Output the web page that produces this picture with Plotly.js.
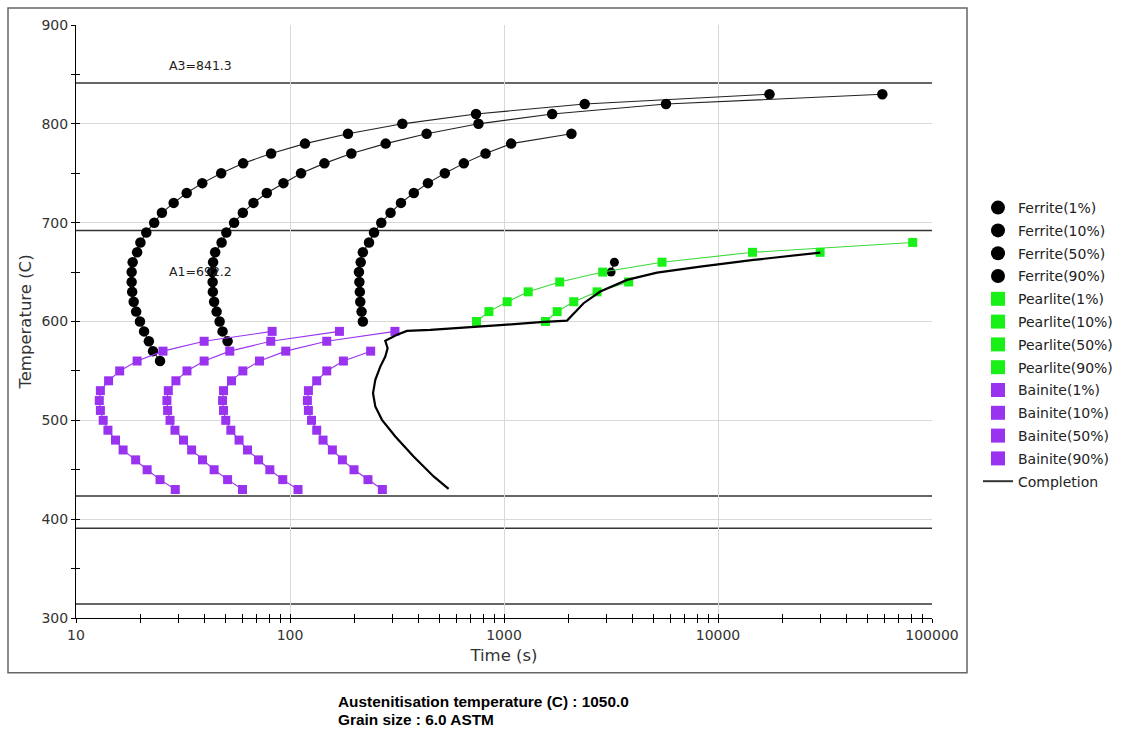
<!DOCTYPE html>
<html><head><meta charset="utf-8">
<script src="https://cdn.plot.ly/plotly-3.0.1.min.js"></script>
<style>html,body{margin:0;padding:0;background:#fff}#chart{width:1124px;height:734px}</style>
</head><body><div id="chart"></div>
<script>
// ---- data ----
const ferrite1T    = [830,820,810,800,790,780,770,760,750,740,730,720,710,700,690,680,670,660,650,640,630,620,610,600,590,580,570,560];
const ferrite1Time = [17400,2383,740,335,186.6,117.5,81.6,60.4,47.7,38.9,32.9,28.6,25.2,23.2,21.3,20.0,19.3,18.4,18.2,18.2,18.3,18.6,19.1,19.9,20.8,21.9,22.9,24.7];
const ferrite10T    = [830,820,810,800,790,780,770,760,750,740,730,720,710,700,690,680,670,660,650,640,630,620,610,600,590,580];
const ferrite10Time = [58600,5716,1679,760,435,280,193.5,144.8,112.6,93.2,77.9,67.5,60.2,54.8,50.4,47.9,44.7,43.7,43.3,43.5,43.6,44.2,45.4,46.9,48.4,51.1];
const ferrite50T    = [790,780,770,760,750,740,730,720,710,700,690,680,670,660,650,640,630,620,610,600];
const ferrite50Time = [2066,1080,820,649,529,441,379,330,295,267,247,234,219,214,210,211,212,213,216,219];
const ferrite90T    = [660,650];
const ferrite90Time = [3280,3165];

const pearlite1T     = [600,610,620,630,640,650,660,670,680];
const pearlite1Time  = [744,850,1035,1297,1821,2892,5474,14500,81250];
const pearlite10T    = [600,610,620,630,640];
const pearlite10Time = [1562,1772,2118,2723,3823];
const pearlite50T    = [670];
const pearlite50Time = [30000];

const bainiteT       = [430,440,450,460,470,480,490,500,510,520,530,540,550,560,570,580,590];
const bainite1Time   = [29.1,24.7,21.5,19.0,16.6,15.3,14.1,13.4,13.0,12.85,13.0,14.2,16.0,19.3,25.5,39.7,82.5];
const bainite10Time  = [60.0,51.1,44.2,39.0,34.7,31.8,29.0,27.5,26.8,26.6,27.0,29.3,33.0,39.7,52.3,81.3,170.2];
const bainite50Time  = [109.0,92.5,80.5,71.3,63.3,57.8,52.9,50.1,48.9,48.4,48.9,53.3,60.2,72.0,95.5,148.5,309.3];
const bainite90T     = [430,440,450,460,470,480,490,500,510,520,530,540,550,560,570];
const bainite90Time  = [270.1,231.4,199.1,175.7,157.8,142.7,133.3,126.0,121.9,120.6,121.9,133.3,148.5,177.6,238.2];

const completionTime = [551,469,378,310.5,269,250.4,244.3,250.4,264.2,278.8,285.8,278.8,316,352,452.5,625,748,995.5,1478,1970,2355,2818,3757,5188,8263,14670,30060];
const completionT    = [430.7,443.2,463.4,483.6,500.5,514,527.5,541,554.4,564.5,573,580.4,586.5,590.5,591.5,593.9,594.9,596.6,599.3,600.9,618.5,630.3,642.1,649.5,655.6,662.3,669.7];

const refLineValues = [841.3, 692.2, 423.5, 390.8, 314.2];
const refLineLabels = ['A3=841.3', 'A1=692.2', '', '', ''];

const xTickVals = [10,100,1000,10000,100000];
const xTickText = ['10','100','1000','10000','100000'];
const infoLines = ['Austenitisation temperature (C) : 1050.0', 'Grain size : 6.0 ASTM'];

// ---- styles ----
const BLACK = '#000000', GREEN = '#18f018', GREENLINE = '#3ad83a', PURPLE = '#9a33f0';
const FONT = 'DejaVu Sans, Arial, sans-serif';

const series = [
  {name:'Ferrite(1%)',  x:ferrite1Time,  y:ferrite1T,  sym:'circle', col:BLACK, lc:'#222', ms:10.5},
  {name:'Ferrite(10%)', x:ferrite10Time, y:ferrite10T, sym:'circle', col:BLACK, lc:'#222', ms:10.5},
  {name:'Ferrite(50%)', x:ferrite50Time, y:ferrite50T, sym:'circle', col:BLACK, lc:'#222', ms:10.5},
  {name:'Ferrite(90%)', x:ferrite90Time, y:ferrite90T, sym:'circle', col:BLACK, lc:'#222', ms:9},
  {name:'Pearlite(1%)', x:pearlite1Time, y:pearlite1T, sym:'square', col:GREEN, lc:GREENLINE, ms:9},
  {name:'Pearlite(10%)',x:pearlite10Time,y:pearlite10T,sym:'square', col:GREEN, lc:GREENLINE, ms:9},
  {name:'Pearlite(50%)',x:pearlite50Time,y:pearlite50T,sym:'square', col:GREEN, lc:GREENLINE, ms:9},
  {name:'Pearlite(90%)',x:[], y:[], sym:'square', col:GREEN, lc:GREENLINE, ms:9},
  {name:'Bainite(1%)',  x:bainite1Time,  y:bainiteT,   sym:'square', col:PURPLE, lc:PURPLE, ms:9},
  {name:'Bainite(10%)', x:bainite10Time, y:bainiteT,   sym:'square', col:PURPLE, lc:PURPLE, ms:9},
  {name:'Bainite(50%)', x:bainite50Time, y:bainiteT,   sym:'square', col:PURPLE, lc:PURPLE, ms:9},
  {name:'Bainite(90%)', x:bainite90Time, y:bainite90T, sym:'square', col:PURPLE, lc:PURPLE, ms:9}
];

const traces = [];
series.forEach((s, i) => {
  traces.push({
    type:'scatter', mode:'lines+markers', x:s.x, y:s.y, name:s.name, legendgroup:'g'+i,
    showlegend:false, line:{color:s.lc, width:1.1},
    marker:{symbol:s.sym, color:s.col, size:s.ms, line:{width:0}}, hoverinfo:'x+y+name'
  });
});
traces.push({
  type:'scatter', mode:'lines', x:completionTime, y:completionT, name:'Completion',
  legendgroup:'g12', showlegend:false, line:{color:'#000', width:2.2}
});
// legend entries (marker only)
series.forEach((s, i) => {
  traces.push({
    type:'scatter', mode:'markers', x:[null], y:[null], name:s.name, legendgroup:'g'+i,
    showlegend:true, marker:{symbol:s.sym, color:s.col, size:14, line:{width:0}},
    xaxis:'x2', yaxis:'y2'
  });
});
traces.push({
  type:'scatter', mode:'lines', x:[null], y:[null], name:'Completion', legendgroup:'g12',
  showlegend:true, line:{color:'#333', width:2}, xaxis:'x2', yaxis:'y2'
});

const L = 76, R = 932, T = 25, B = 618.3, W = 1124, H = 734;
const pw = R - L, ph = B - T;
const px2x = p => (p - L) / pw;
const py2y = p => (B - p) / ph;

const shapes = refLineValues.map(v => ({
  type:'line', xref:'paper', x0:0, x1:1, yref:'y', y0:v, y1:v,
  line:{color:'#333', width:1.5}, layer:'below'
}));
shapes.push({
  type:'rect', xref:'paper', yref:'paper',
  x0:px2x(8), x1:px2x(967), y0:py2y(673), y1:py2y(8),
  line:{color:'#666', width:1.5}, fillcolor:'rgba(0,0,0,0)'
});

const annotations = [];
const labelShift = [18, -41, 0, 0, 0];
refLineValues.forEach((v, i) => {
  if (!refLineLabels[i]) return;
  annotations.push({
    xref:'paper', x:px2x(167), xanchor:'left', yref:'y', y:v, yshift:labelShift[i], yanchor:'middle',
    text:refLineLabels[i], showarrow:false, font:{family:FONT, size:12.5, color:'#222'}
  });
});
infoLines.forEach((t, i) => {
  annotations.push({
    xref:'paper', yref:'paper', x:px2x(336), y:py2y(702 + i*18), xanchor:'left', yanchor:'middle',
    text:'<b>' + t + '</b>', showarrow:false,
    font:{family:'Liberation Sans, Arial, sans-serif', size:15.4, color:'#000'}
  });
});

const axisCommon = {
  showline:true, linecolor:'#000', linewidth:1, zeroline:false,
  tickcolor:'#000', tickfont:{family:FONT, size:14, color:'#333'}
};

const layout = {
  width:W, height:H, paper_bgcolor:'#fff', plot_bgcolor:'#fff',
  margin:{l:L, r:W-R, t:T, b:H-B},
  showlegend:true,
  xaxis:Object.assign({}, axisCommon, {
    type:'log', range:[1,5], tickmode:'array', tickvals:xTickVals, ticktext:xTickText,
    ticks:'outside', ticklen:4, showgrid:true, gridcolor:'#d8d8d8', gridwidth:1,
    minor:{ticks:'outside', ticklen:4, tickcolor:'#000', dtick:'D1', showgrid:false},
    title:{text:'Time (s)', font:{family:FONT, size:16.5, color:'#333'}, standoff:7}
  }),
  yaxis:Object.assign({}, axisCommon, {
    range:[300,900], dtick:100, ticks:'outside', ticklen:4, showgrid:true, gridcolor:'#d8d8d8',
    minor:{ticks:'outside', ticklen:4, tickcolor:'#000', dtick:50, showgrid:false},
    title:{text:'Temperature (C)', font:{family:FONT, size:16.5, color:'#333'}, standoff:5}
  }),
  xaxis2:{type:'log', range:[1,5], overlaying:'x', anchor:'y', showgrid:false, showline:false,
    zeroline:false, showticklabels:false, ticks:'inside', ticklen:4, tickcolor:'#000',
    tickmode:'array', tickvals:xTickVals,
    minor:{ticks:'inside', ticklen:4, tickcolor:'#000', dtick:'D1', showgrid:false}},
  yaxis2:{range:[300,900], overlaying:'y', anchor:'x', showgrid:false, showline:false,
    zeroline:false, showticklabels:false, ticks:'inside', ticklen:4, tickcolor:'#000', dtick:100,
    minor:{ticks:'inside', ticklen:4, tickcolor:'#000', dtick:50, showgrid:false}},
  legend:{xref:'container', yref:'container', x:978/W, xanchor:'left', y:1 - 192/H, yanchor:'top',
    bgcolor:'rgba(0,0,0,0)', font:{family:FONT, size:14, color:'#222'}, itemwidth:30,
    tracegroupgap:1.6, traceorder:'grouped'},
  shapes:shapes, annotations:annotations
};

Plotly.newPlot('chart', traces, layout, {displayModeBar:false, staticPlot:true});
</script></body></html>
